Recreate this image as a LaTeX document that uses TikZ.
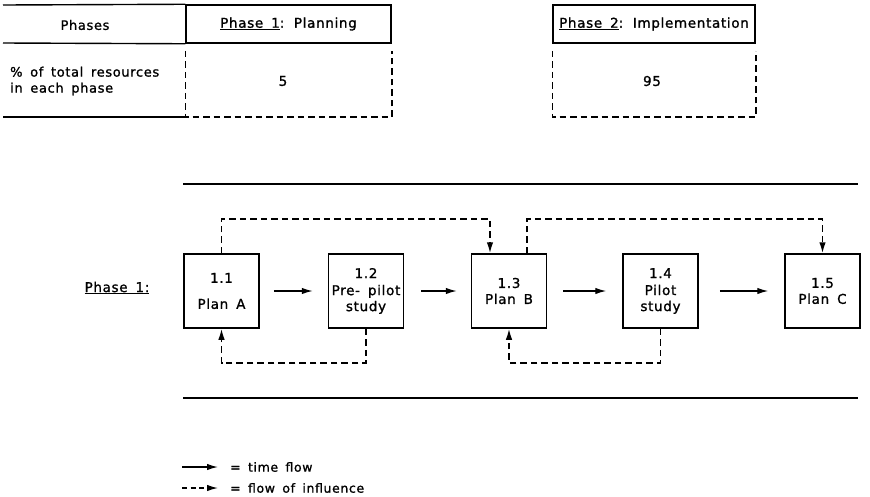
\documentclass[tikz,border=0pt]{standalone}
\usepackage{fontspec}
\setmainfont[LetterSpace=5,WordSpace=1.6,FakeBold=1.2]{DejaVu Sans}
\usetikzlibrary{arrows.meta,calc}
\begin{document}
\begin{tikzpicture}[x=1pt,y=-1pt,
  box/.style={draw,line width=1.5pt,minimum width=75pt,minimum height=74pt,inner sep=0pt,align=center,font=\fontsize{13.5}{16}\selectfont},
  hdr/.style={draw,line width=1.5pt,minimum height=38pt,inner sep=0pt,font=\fontsize{13.5}{16}\selectfont},
  rule/.style={line width=1.4pt},
  dsh/.style={line width=1.5pt,dash pattern=on 6.5pt off 4pt},
  tip/.style={-{Latex[length=11pt,width=6.5pt]}},
  tflow/.style={line width=1.4pt,tip},
  infl/.style={dsh,tip},
  txt/.style={inner sep=0pt,font=\fontsize{13}{16}\selectfont}
]
\useasboundingbox (0,0) rectangle (870,496);
% ---- top table ----
\node[hdr,minimum width=205pt] (p1) at (288.5,24) {\underline{Phase 1}: Planning};
\node[hdr,minimum width=202pt] (p2) at (654,24) {\underline{Phase 2}: Implementation};
\coordinate (yb) at (0,117);
\draw[dsh] ([yshift=-7pt]p1.south west) -- (p1.south west |- yb) -- (p1.south east |- yb) -- ([yshift=-7pt]p1.south east);
\draw[dsh] ([yshift=-7pt]p2.south west) -- (p2.south west |- yb) -- (p2.south east |- yb) -- ([yshift=-7pt]p2.south east);
\draw[rule] (3,5) -- (p1.north west);
\draw[rule] (3,43) -- (p1.south west);
\draw[rule] (3,117) -- (p1.south west |- yb);
\node[txt] (ph) at (85,25) {Phases};
\node[txt,anchor=west,align=left] (pct) at (10,81) {\% of total resources\\in each phase};
\node[txt,font=\fontsize{13.5}{16}\selectfont] (v5) at (283,81) {5};
\node[txt,font=\fontsize{13.5}{16}\selectfont] (v95) at (652,81) {95};
% ---- main diagram ----
\draw[rule] (183,184) -- (858,184);
\draw[rule] (183,398) -- (858,398);
\node[txt,font=\fontsize{13.5}{16}\selectfont] (lab) at (117,288) {\underline{Phase 1:}};
\node[box] (n11) at (221.5,291) {1.1\\[10pt]Plan A};
\node[box] (n12) at (366,291) {1.2\\[1pt]Pre- pilot\\study};
\node[box] (n13) at (509,291) {1.3\\Plan B};
\node[box] (n14) at (660.5,291) {1.4\\[1pt]Pilot\\study};
\node[box] (n15) at (822.5,291) {1.5\\Plan C};
\draw[tflow,shorten <=14pt,shorten >=15pt] (n11) -- (n12);
\draw[tflow,shorten <=17pt,shorten >=14pt] (n12) -- (n13);
\draw[tflow,shorten <=16pt,shorten >=16pt] (n13) -- (n14);
\draw[tflow,shorten <=21pt,shorten >=16pt] (n14) -- (n15);
\coordinate (ytop) at (0,219);
\coordinate (ybot) at (0,363);
\coordinate (b13a) at ([xshift=-19pt]n13.north);
\coordinate (b13b) at ([xshift=18pt]n13.north);
\draw[infl] (n11.north) -- (n11.north |- ytop) -| (b13a);
\draw[infl] (b13b) -- (b13b |- ytop) -| (n15.north);
\draw[infl] (n12.south) -- (n12.south |- ybot) -| (n11.south);
\draw[infl] (n14.south) -- (n14.south |- ybot) -| (n13.south);
% ---- legend ----
\coordinate (la1) at (182,467);
\coordinate (la2) at (218,467);
\coordinate (lb1) at (182,488);
\coordinate (lb2) at (218,488);
\draw[line width=1.4pt,tip] (la1) -- (la2);
\draw[line width=1.4pt,dash pattern=on 5pt off 3.5pt,tip] (lb1) -- (lb2);
\node[txt,anchor=west,font=\fontsize{12.5}{15}\selectfont] (lt1) at (230,467) {= time flow};
\node[txt,anchor=west,font=\fontsize{12.5}{15}\selectfont] (lt2) at (230,488) {= flow of influence};
\end{tikzpicture}
\end{document}
